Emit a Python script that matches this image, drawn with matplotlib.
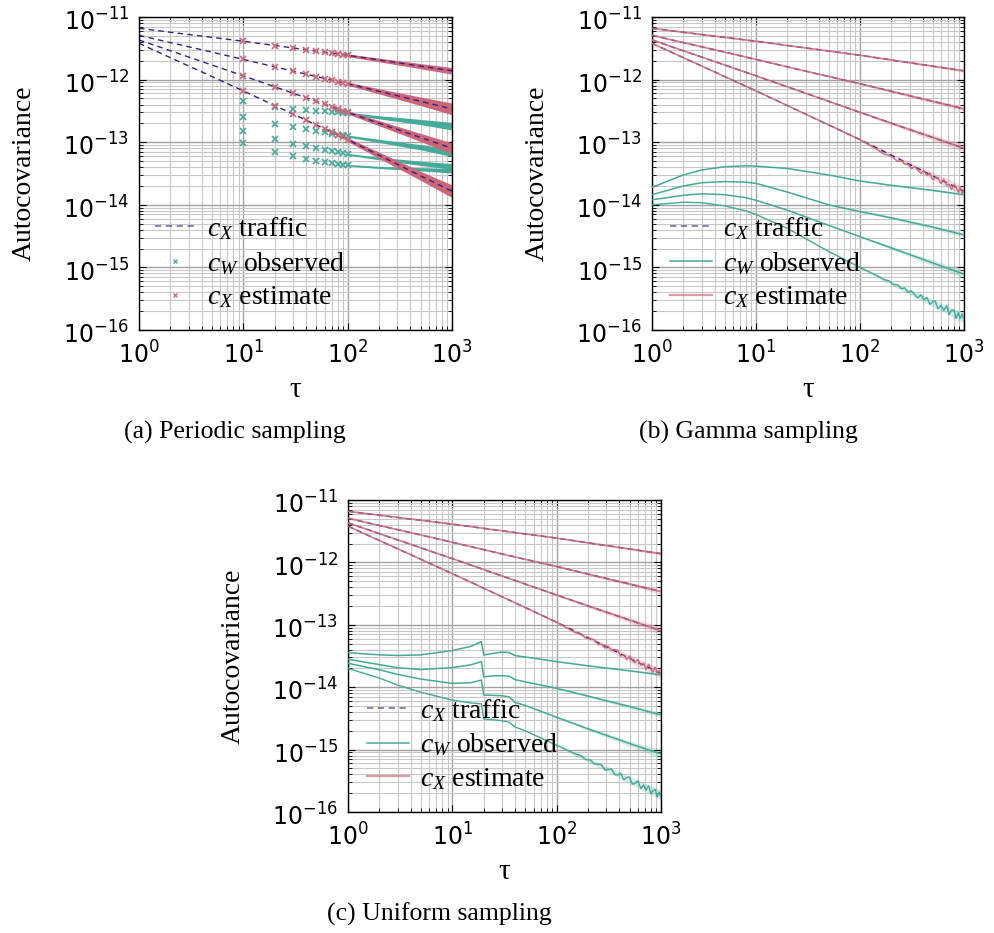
import matplotlib

matplotlib.use("Agg")
import matplotlib.pyplot as plt
from matplotlib.lines import Line2D
from matplotlib.ticker import LogLocator
from matplotlib.transforms import ScaledTranslation
import numpy as np

ROSE = "#CC6677"
TEAL = "#44AA99"
INDIGO = "#332288"

# lags used for the smooth curves
tau_grid = [1, 2, 5, 10, 20, 50, 100, 200, 500, 1000]

# true traffic autocovariance c_X, four traffic settings
cx_traffic = [
    [6.6e-12, 5.7e-12, 4.73e-12, 4.1e-12, 3.51e-12, 2.86e-12, 2.45e-12, 2.06e-12, 1.64e-12, 1.38e-12],
    [5.1e-12, 3.9e-12, 2.75e-12, 2.1e-12, 1.6e-12, 1.12e-12, 8.6e-13, 6.5e-13, 4.5e-13, 3.4e-13],
    [4.3e-12, 2.89e-12, 1.71e-12, 1.15e-12, 7.67e-13, 4.5e-13, 3.0e-13, 2.01e-13, 1.19e-13, 8.0e-14],
    [3.8e-12, 2.24e-12, 1.12e-12, 6.6e-13, 3.85e-13, 1.89e-13, 1.1e-13, 6.2e-14, 2.9e-14, 1.65e-14],
]

# (a) periodic sampling: markers at multiples of the period, dense band beyond 100
tau_marks_a = [10, 20, 30, 40, 50, 60, 70, 80, 90, 100]
est_marks_a = [
    [4.1e-12, 3.5e-12, 3.2e-12, 3.0e-12, 2.85e-12, 2.75e-12, 2.65e-12, 2.58e-12, 2.5e-12, 2.45e-12],
    [2.1e-12, 1.6e-12, 1.37e-12, 1.23e-12, 1.12e-12, 1.04e-12, 9.8e-13, 9.3e-13, 8.9e-13, 8.6e-13],
    [1.15e-12, 7.7e-13, 6.05e-13, 5.15e-13, 4.5e-13, 4.05e-13, 3.7e-13, 3.42e-13, 3.2e-13, 3.0e-13],
    [6.6e-13, 3.85e-13, 2.81e-13, 2.23e-13, 1.88e-13, 1.63e-13, 1.44e-13, 1.3e-13, 1.19e-13, 1.1e-13],
]
obs_marks_a = [
    [4.5e-13, 3.6e-13, 3.4e-13, 3.3e-13, 3.2e-13, 3.1e-13, 3.05e-13, 3.0e-13, 2.95e-13, 2.9e-13],
    [2.5e-13, 1.95e-13, 1.75e-13, 1.6e-13, 1.5e-13, 1.43e-13, 1.37e-13, 1.32e-13, 1.28e-13, 1.25e-13],
    [1.53e-13, 1.11e-13, 9.5e-14, 8.6e-14, 8.0e-14, 7.5e-14, 7.2e-14, 6.9e-14, 6.6e-14, 6.4e-14],
    [9.8e-14, 7.0e-14, 6.0e-14, 5.4e-14, 5.0e-14, 4.75e-14, 4.6e-14, 4.45e-14, 4.35e-14, 4.3e-14],
]
band_tau_a = [100, 200, 500, 1000]
est_band_a = [row[6:] for row in cx_traffic]
obs_band_a = [
    [2.9e-13, 2.5e-13, 2.1e-13, 1.8e-13],
    [1.25e-13, 1.05e-13, 8.3e-14, 6.8e-14],
    [6.4e-14, 5.5e-14, 4.6e-14, 4.1e-14],
    [4.3e-14, 3.95e-14, 3.7e-14, 3.5e-14],
]
est_spread_a = [
    [1.05, 1.07, 1.1, 1.13],
    [1.06, 1.1, 1.17, 1.24],
    [1.06, 1.1, 1.16, 1.22],
    [1.07, 1.12, 1.18, 1.26],
]
obs_spread_a = [
    [1.04, 1.06, 1.1, 1.15],
    [1.04, 1.06, 1.1, 1.15],
    [1.03, 1.05, 1.08, 1.11],
    [1.03, 1.04, 1.06, 1.09],
]

# (b) gamma sampling, observed c_W
tau_obs_b = [1, 2, 3, 5, 8, 10, 20, 50, 100, 200, 500, 1000]
obs_b = [
    [1.9e-14, 3.0e-14, 3.6e-14, 4.05e-14, 4.2e-14, 4.15e-14, 3.8e-14, 3.0e-14, 2.4e-14, 2.05e-14, 1.7e-14, 1.45e-14],
    [1.45e-14, 2.0e-14, 2.25e-14, 2.35e-14, 2.3e-14, 2.2e-14, 1.6e-14, 1.0e-14, 7.8e-15, 6.2e-15, 4.4e-15, 3.3e-15],
    [1.2e-14, 1.42e-14, 1.5e-14, 1.45e-14, 1.3e-14, 1.18e-14, 8.2e-15, 4.7e-15, 3.1e-15, 2.05e-15, 1.18e-15, 7.8e-16],
    [1.0e-14, 1.1e-14, 1.08e-14, 9.6e-15, 8.0e-15, 7.0e-15, 4.2e-15, 1.8e-15, 1.0e-15, 5.6e-16, 2.7e-16, 1.55e-16],
]

# (c) uniform sampling, observed c_W (jump at tau = 20)
tau_obs_c = [1, 2, 3, 5, 10, 15, 19, 20, 25, 30, 35, 40, 50, 100, 200, 500, 1000]
obs_c = [
    [3.57e-14, 3.3e-14, 3.22e-14, 3.3e-14, 3.87e-14, 4.5e-14, 5.36e-14, 3.28e-14, 3.5e-14, 3.65e-14,
     3.6e-14, 3.2e-14, 3.05e-14, 2.57e-14, 2.2e-14, 1.83e-14, 1.58e-14],
    [2.8e-14, 2.3e-14, 2.05e-14, 1.92e-14, 2.06e-14, 2.28e-14, 2.57e-14, 1.47e-14, 1.52e-14, 1.53e-14,
     1.5e-14, 1.32e-14, 1.22e-14, 9.6e-15, 7.2e-15, 4.9e-15, 3.6e-15],
    [2.42e-14, 1.9e-14, 1.6e-14, 1.35e-14, 1.15e-14, 1.18e-14, 1.3e-14, 7.5e-15, 7.4e-15, 7.3e-15,
     7.0e-15, 5.7e-15, 5.1e-15, 3.3e-15, 2.15e-15, 1.25e-15, 8.5e-16],
    [2.0e-14, 1.4e-14, 1.08e-14, 8.3e-15, 6.2e-15, 5.6e-15, 5.4e-15, 3.1e-15, 3.0e-15, 2.9e-15,
     2.75e-15, 2.3e-15, 2.0e-15, 1.18e-15, 6.8e-16, 3.3e-16, 1.87e-16],
]

# noisy tails of the steepest curves
tail_tau = [150, 170, 190, 210, 230, 250, 270, 290, 310, 335, 360, 385, 410, 440, 470,
            500, 530, 560, 600, 640, 680, 720, 760, 800, 840, 880, 920, 960, 1000]
est_tail_b = [7.45e-14, 6.4e-14, 6.23e-14, 5.58e-14, 4.92e-14, 5.09e-14, 4.47e-14, 4.47e-14, 3.79e-14, 4.07e-14,
              3.62e-14, 3.16e-14, 3.53e-14, 2.97e-14, 3.22e-14, 2.51e-14, 2.74e-14, 2.72e-14, 2.19e-14, 2.56e-14,
              2.07e-14, 2.12e-14, 1.75e-14, 2.1e-14, 1.91e-14, 1.59e-14, 1.92e-14, 1.53e-14, 1.7e-14]
est_tail_c = [7.52e-14, 7.21e-14, 6.1e-14, 6.04e-14, 5.71e-14, 4.84e-14, 4.89e-14, 4.25e-14, 4.58e-14, 3.91e-14,
              3.99e-14, 3.92e-14, 3.19e-14, 3.3e-14, 2.77e-14, 3.16e-14, 2.71e-14, 2.46e-14, 2.78e-14, 2.26e-14,
              2.43e-14, 1.94e-14, 2.32e-14, 1.95e-14, 1.74e-14, 2.1e-14, 1.71e-14, 1.87e-14, 1.55e-14]
obs_tail_b = [7.2e-16, 6.37e-16, 6.12e-16, 5.32e-16, 5.29e-16, 4.57e-16, 4.69e-16, 3.97e-16, 4.24e-16, 3.68e-16,
              3.26e-16, 3.66e-16, 3.03e-16, 3.31e-16, 2.57e-16, 2.82e-16, 2.9e-16, 2.18e-16, 2.48e-16, 2.06e-16,
              2.44e-16, 1.76e-16, 2.08e-16, 2.08e-16, 1.53e-16, 1.89e-16, 1.53e-16, 1.82e-16, 1.4e-16]
obs_tail_c = [8.55e-16, 8.03e-16, 6.92e-16, 6.84e-16, 5.87e-16, 5.82e-16, 5.68e-16, 4.71e-16, 4.8e-16, 4.87e-16,
              4.0e-16, 3.91e-16, 4.21e-16, 3.25e-16, 3.59e-16, 3.61e-16, 2.8e-16, 2.83e-16, 3.18e-16, 2.37e-16,
              2.72e-16, 2.23e-16, 2.64e-16, 1.96e-16, 2.2e-16, 2.31e-16, 1.73e-16, 2.09e-16, 1.73e-16]

# shaded spread around the curves in (b) and (c)
band_tau = [50, 100, 200, 500, 1000]
est_spread = [
    [1.005, 1.01, 1.02, 1.04, 1.06],
    [1.01, 1.02, 1.04, 1.07, 1.10],
    [1.01, 1.03, 1.06, 1.11, 1.16],
    [1.02, 1.04, 1.08, 1.14, 1.2],
]
obs_spread = [
    [1.005, 1.01, 1.015, 1.025, 1.035],
    [1.01, 1.02, 1.04, 1.07, 1.1],
    [1.01, 1.03, 1.06, 1.11, 1.16],
    [1.02, 1.04, 1.08, 1.14, 1.2],
]

W, H = 995, 933
plt.rcParams["font.family"] = ["Liberation Serif", "DejaVu Serif"]
plt.rcParams["mathtext.fontset"] = "dejavusans"
plt.rcParams["mathtext.rm"] = "Liberation Serif"
plt.rcParams["mathtext.it"] = "Liberation Serif:italic"

fig = plt.figure(figsize=(W / 100, H / 100), dpi=100)


def px_axes(left, top, right, bottom):
    return fig.add_axes([left / W, 1 - bottom / H, (right - left) / W, (bottom - top) / H])


def style_axes(ax):
    ax.set_xscale("log")
    ax.set_yscale("log")
    ax.set_xlim(1, 1000)
    ax.set_ylim(1e-16, 1e-11)
    for axis in (ax.xaxis, ax.yaxis):
        axis.set_major_locator(LogLocator(base=10, numticks=12))
        axis.set_minor_locator(LogLocator(base=10, subs=np.arange(2, 10), numticks=12))
    ax.grid(True, which="minor", color="#c8c8c8", lw=0.8)
    ax.grid(True, which="major", color="#a2a2a2", lw=1.0)
    ax.set_axisbelow(True)
    ax.tick_params(which="both", direction="in", top=True, right=True, color="black")
    ax.tick_params(which="major", length=5, width=0.8, labelsize=17, pad=7,
                   labelfontfamily="DejaVu Sans")
    ax.tick_params(axis="x", which="major", pad=8)
    ax.tick_params(which="minor", length=3, width=0.6)
    for sp in ax.spines.values():
        sp.set_linewidth(1.0)
    # y tick labels sit a little below their ticks, as in the original
    shift = ScaledTranslation(0, -2 / 72, fig.dpi_scale_trans)
    for tick in ax.yaxis.get_major_ticks():
        tick.label1.set_transform(tick.label1.get_transform() + shift)


def add_band(ax, taus, mids, spreads, color, alpha):
    mids = np.asarray(mids)
    spreads = np.asarray(spreads)
    ax.fill_between(taus, mids / spreads, mids * spreads, color=color, alpha=alpha, lw=0)


def add_legend(ax, x, y, marker_style):
    traffic = Line2D([], [], color=INDIGO, alpha=0.6, ls=(0, (3.5, 2.5)), lw=1.3)
    if marker_style:
        obs = Line2D([], [], color=TEAL, marker="x", ls="none", ms=3, mew=0.9)
        est = Line2D([], [], color=ROSE, marker="x", ls="none", ms=3, mew=0.9)
    else:
        obs = Line2D([], [], color=TEAL, lw=1.1)
        est = Line2D([], [], color=ROSE, alpha=0.65, lw=1.6)
    leg = ax.legend([traffic, obs, est], [r"$c_X$ traffic", r"$c_W$ observed", r"$c_X$ estimate"],
                    loc="upper left", bbox_to_anchor=(x, y), frameon=False, fontsize=20,
                    borderpad=0, borderaxespad=0, handlelength=1.5, handletextpad=0.4,
                    labelspacing=0.28)
    for t in leg.get_texts():
        t.set_math_fontfamily("custom")


def add_labels(ax_box, caption, cap_x):
    left, top, right, bottom = ax_box
    cy = (top + bottom) / 2
    fig.text((left - 115) / W, 1 - cy / H, "Autocovariance", rotation=90, ha="center", va="center", fontsize=20)
    fig.text((left + right) / 2 / W, 1 - (bottom + 60) / H, "τ", ha="center", va="center", fontsize=21)
    fig.text(cap_x / W, 1 - (bottom + 102) / H, caption, ha="center", va="center", fontsize=18.5)


# ---- (a) periodic sampling
box_a = (139, 17, 452, 330)
ax = px_axes(*box_a)
style_axes(ax)
for i in range(4):
    ax.plot(tau_grid, cx_traffic[i], color=INDIGO, ls=(0, (4, 3)), lw=1.0, zorder=2)
for i in range(4):
    add_band(ax, band_tau_a, obs_band_a[i], obs_spread_a[i], TEAL, 1.0)
    ax.plot(tau_marks_a, obs_marks_a[i], ls="none", marker="x", ms=4.5, mew=1.2, color=TEAL, zorder=3)
for i in range(4):
    add_band(ax, band_tau_a, est_band_a[i], est_spread_a[i], ROSE, 1.0)
    ax.plot(tau_marks_a, est_marks_a[i], ls="none", marker="x", ms=4.5, mew=1.2, color=ROSE, zorder=3)
add_legend(ax, 0.05, 0.367, True)
add_labels(box_a, "(a) Periodic sampling", 235)


def draw_continuous(ax, tau_obs, obs, obs_tail, est_tail, n_smooth_obs):
    for i in range(4):
        add_band(ax, band_tau, obs[i][-5:], obs_spread[i], TEAL, 0.22)
        add_band(ax, band_tau, cx_traffic[i][-5:], est_spread[i], ROSE, 0.22)
    for i in range(4):
        ax.plot(tau_grid, cx_traffic[i], color=INDIGO, ls=(0, (4, 3)), lw=1.0, zorder=2)
    for i in range(3):
        ax.plot(tau_obs, obs[i], color=TEAL, lw=1.1, zorder=3)
    ax.plot(list(tau_obs[:n_smooth_obs]) + tail_tau, list(obs[3][:n_smooth_obs]) + obs_tail,
            color=TEAL, lw=1.0, zorder=3)
    for i in range(3):
        ax.plot(tau_grid, cx_traffic[i], color=ROSE, lw=1.2, alpha=0.85, zorder=4)
    ax.plot(tau_grid[:7] + tail_tau, cx_traffic[3][:7] + est_tail, color=ROSE, lw=1.1, alpha=0.9, zorder=4)


# ---- (b) gamma sampling
box_b = (652, 17, 964, 330)
ax = px_axes(*box_b)
style_axes(ax)
draw_continuous(ax, tau_obs_b, obs_b, obs_tail_b, est_tail_b, 9)
add_legend(ax, 0.058, 0.367, False)
add_labels(box_b, "(b) Gamma sampling", 748)

# ---- (c) uniform sampling
box_c = (348, 500, 661, 812)
ax = px_axes(*box_c)
style_axes(ax)
draw_continuous(ax, tau_obs_c, obs_c, obs_tail_c, est_tail_c, 14)
add_legend(ax, 0.061, 0.369, False)
add_labels(box_c, "(c) Uniform sampling", 439)

fig.savefig("out.png", dpi=100)
